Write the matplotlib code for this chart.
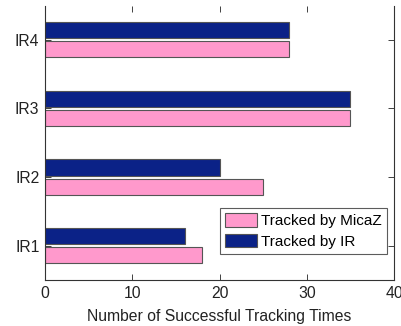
import matplotlib
matplotlib.use("Agg")
import matplotlib.pyplot as plt
import numpy as np

plt.rcParams['font.family'] = ['Liberation Sans', 'DejaVu Sans']

categories = ["IR1", "IR2", "IR3", "IR4"]
micaz = [18, 25, 35, 28]
ir = [16, 20, 35, 28]
legend_labels = ["Tracked by MicaZ", "Tracked by IR"]

pink = "#FF99CC"
navy = "#0B2287"
edge = "#555555"

fig = plt.figure(figsize=(4.02, 3.26), dpi=100)
ax = fig.add_axes([45 / 402, 1 - 280 / 326, 349 / 402, 274.5 / 326])

y = np.arange(1, len(categories) + 1)
h = 0.235
ax.barh(y - 0.14, micaz, height=h, color=pink, edgecolor=edge, linewidth=0.8,
        label=legend_labels[0])
ax.barh(y + 0.14, ir, height=h, color=navy, edgecolor=edge, linewidth=0.8,
        label=legend_labels[1])

ax.set_xlim(0, 40)
ax.set_ylim(0.5, 4.5)
ax.set_xticks([0, 10, 20, 30, 40])
ax.set_yticks(y)
ax.set_yticklabels(categories)
ax.tick_params(direction='in', top=True, right=True, length=4, width=0.6,
               labelsize=11.3, colors='#222222', pad=4)
ax.set_xlabel("Number of Successful Tracking Times", fontsize=11.3, color='#222222',
              labelpad=6)
for s in ax.spines.values():
    s.set_linewidth(0.8)
    s.set_color('#333333')
ax.spines['top'].set_visible(False)

leg = ax.legend(loc='lower right', bbox_to_anchor=(0.98, 0.095), fontsize=11,
                frameon=True, fancybox=False, handlelength=2.1, handleheight=1.0,
                borderpad=0.35, labelspacing=0.33, handletextpad=0.25,
                borderaxespad=0.0)
leg.get_frame().set_edgecolor('#333333')
leg.get_frame().set_linewidth(0.8)

fig.savefig("out.png", dpi=100)
